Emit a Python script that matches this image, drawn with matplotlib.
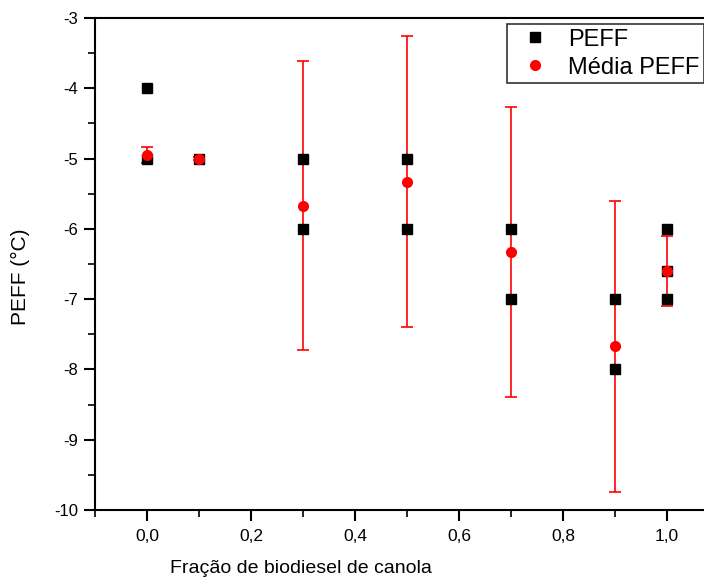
import matplotlib.pyplot as plt

plt.rcParams['font.family'] = ['Liberation Sans', 'DejaVu Sans']
plt.rcParams['axes.unicode_minus'] = False

# raw PEFF readings
x_peff = [0.0, 0.0, 0.1, 0.3, 0.3, 0.5, 0.5, 0.7, 0.7, 0.9, 0.9, 1.0, 1.0, 1.0]
y_peff = [-4, -5, -5, -5, -6, -5, -6, -6, -7, -7, -8, -6, -6.6, -7]

# mean values with error
x_mean = [0.0, 0.1, 0.3, 0.5, 0.7, 0.9, 1.0]
y_mean = [-4.95, -5.0, -5.67, -5.33, -6.33, -7.67, -6.6]
y_err = [0.12, 0.02, 2.06, 2.07, 2.06, 2.07, 0.5]

fig = plt.figure(figsize=(7.04, 5.85), dpi=100)
left = 95 / 704
right = 719 / 704
ax = fig.add_axes([left, 75 / 585, right - left, 492 / 585])

ax.errorbar(x_mean, y_mean, yerr=y_err, fmt='none', ecolor='red',
            elinewidth=1.2, capsize=4, capthick=1.2, zorder=2)
ax.plot(x_peff, y_peff, 's', color='black', markersize=7, label='PEFF', zorder=3)
ax.plot(x_mean, y_mean, 'o', color='red', markersize=7, label='Média PEFF', zorder=4)

ax.set_xlim(-0.1, 1.1)
ax.set_ylim(-10, -3)
ax.set_xticks([0.0, 0.2, 0.4, 0.6, 0.8, 1.0])
ax.set_xticklabels(['0,0', '0,2', '0,4', '0,6', '0,8', '1,0'])
ax.set_xticks([-0.1, 0.1, 0.3, 0.5, 0.7, 0.9], minor=True)
ax.set_yticks(range(-10, -2))
ax.set_yticks([-9.5, -8.5, -7.5, -6.5, -5.5, -4.5, -3.5], minor=True)
ax.tick_params(which='major', direction='out', length=8, width=1.5)
ax.tick_params(which='minor', direction='out', length=5, width=1.2)
ax.tick_params(axis='x', which='major', labelsize=12.5, pad=6)
ax.tick_params(axis='y', which='major', labelsize=12, pad=4)
for s in ax.spines.values():
    s.set_linewidth(1.5)

ax.set_xlabel('Fração de biodiesel de canola', fontsize=14)
ax.xaxis.set_label_coords((301 - 95) / 624, -(560 - 510) / 492)
ax.set_ylabel('PEFF (°C)', fontsize=15)
ax.yaxis.set_label_coords(-(95 - 30) / 624, (510 - 277) / 492)

leg = ax.legend(loc='upper left', bbox_to_anchor=(507 / 704, 1 - 24 / 585),
                bbox_transform=fig.transFigure, fontsize=17, frameon=True,
                fancybox=False, edgecolor='black', borderpad=0.2,
                labelspacing=0.25, handletextpad=0.4, borderaxespad=0)
leg.get_frame().set_linewidth(1.2)

fig.savefig('out.png', dpi=100)
